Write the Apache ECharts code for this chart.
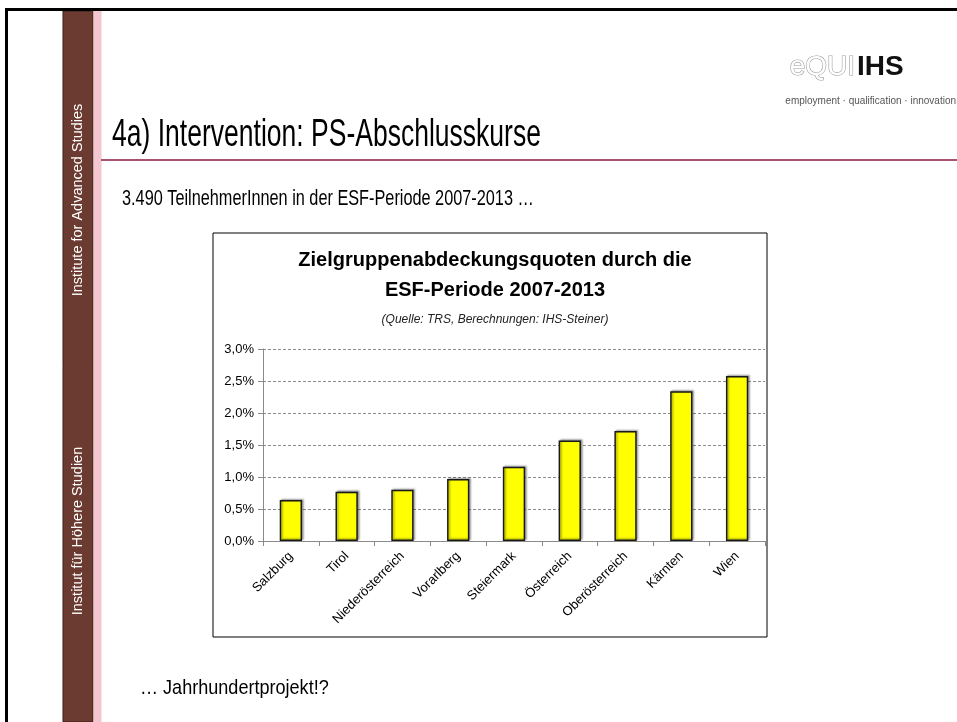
<!DOCTYPE html>
<html>
<head>
<meta charset="utf-8">
<script src="https://cdn.jsdelivr.net/npm/echarts@6/dist/echarts.min.js"></script>
<style>
html,body{margin:0;padding:0;background:#fff;}
#chart{width:957px;height:722px;}
</style>
</head>
<body>
<div id="chart"></div>
<script>
// ---- data ----
const categories = ['Salzburg','Tirol','Niederösterreich','Vorarlberg','Steiermark','Österreich','Oberösterreich','Kärnten','Wien'];
const quoten = [0.64, 0.77, 0.80, 0.97, 1.16, 1.57, 1.72, 2.34, 2.58];
const yTicks = [0, 0.5, 1.0, 1.5, 2.0, 2.5, 3.0];

const slideTitle = '4a) Intervention: PS-Abschlusskurse';
const slideSubtitle = '3.490 TeilnehmerInnen in der ESF-Periode 2007-2013 …';
const slideFooter = '… Jahrhundertprojekt!?';
const chartTitle = 'Zielgruppenabdeckungsquoten durch die\nESF-Periode 2007-2013';
const chartSource = '(Quelle: TRS, Berechnungen: IHS-Steiner)';
const sideTop = 'Institute for Advanced Studies';
const sideBottom = 'Institut für Höhere Studien';

const FONT = '"Liberation Sans", Arial, sans-serif';
const chart = echarts.init(document.getElementById('chart'), null, {renderer:'canvas'});

const option = {
  backgroundColor: '#ffffff',
  animation: false,
  title: [
    {
      text: chartTitle,
      left: 490, top: 240, textAlign: 'center',
      textStyle: {fontFamily: FONT, fontSize: 20, fontWeight: 'bold', color: '#000', lineHeight: 30}
    },
    {
      text: chartSource,
      left: 490, top: 309, textAlign: 'center',
      textStyle: {fontFamily: FONT, fontSize: 12, fontStyle: 'italic', fontWeight: 'normal', color: '#222'}
    }
  ],
  grid: {left: 263, top: 349, width: 502, height: 192, containLabel: false},
  xAxis: {
    type: 'category',
    data: categories,
    boundaryGap: true,
    axisLine: {show: true, lineStyle: {color: '#8a8a8a', width: 1}},
    axisTick: {show: true, length: 5, lineStyle: {color: '#8a8a8a'}},
    axisLabel: {rotate: 45, fontFamily: FONT, fontSize: 13, color: '#000', margin: 13, interval: 0}
  },
  yAxis: {
    type: 'value',
    min: yTicks[0], max: yTicks[yTicks.length - 1], interval: 0.5,
    axisLine: {show: true, lineStyle: {color: '#8a8a8a', width: 1}},
    axisTick: {show: true, length: 5, lineStyle: {color: '#8a8a8a'}},
    axisLabel: {
      fontFamily: FONT, fontSize: 13, color: '#000', margin: 9,
      formatter: v => v.toFixed(1).replace('.', ',') + '%'
    },
    splitLine: {show: true, lineStyle: {color: '#8c8c8c', type: [3, 2], width: 1}}
  },
  series: [{
    type: 'bar',
    data: quoten,
    barWidth: '40%',
    itemStyle: {
      color: '#ffff00', borderColor: '#1a1a1a', borderWidth: 1.5,
      shadowColor: 'rgba(0,0,0,0.35)', shadowBlur: 2, shadowOffsetX: 1.5, shadowOffsetY: -1
    }
  }],
  graphic: [
    // slide frame
    {type: 'rect', shape: {x: 5, y: 8, width: 952, height: 3}, style: {fill: '#000'}, z: 10},
    {type: 'rect', shape: {x: 5, y: 8, width: 3, height: 714}, style: {fill: '#000'}, z: 10},
    // sidebar
    {type: 'rect', shape: {x: 63, y: 11, width: 30, height: 711}, style: {fill: '#6b3a31', stroke: '#3b2019', lineWidth: 1}, z: 5},
    {type: 'rect', shape: {x: 93.5, y: 11, width: 8, height: 711}, style: {fill: '#f4c6cf'}, z: 5},
    {type: 'text', x: 78, y: 200, rotation: Math.PI / 2,
      style: {text: sideTop, fill: '#fff', font: '14.5px ' + FONT, textAlign: 'center', textVerticalAlign: 'middle'}, z: 6},
    {type: 'text', x: 78, y: 531, rotation: Math.PI / 2,
      style: {text: sideBottom, fill: '#fff', font: '14.5px ' + FONT, textAlign: 'center', textVerticalAlign: 'middle'}, z: 6},
    // title + rule
    {type: 'text', x: 112, y: 135, scaleX: 0.68,
      style: {text: slideTitle, fill: '#000', font: '39px ' + FONT, textAlign: 'left', textVerticalAlign: 'middle'}, z: 6},
    {type: 'line', shape: {x1: 101, y1: 160, x2: 957, y2: 160}, style: {stroke: '#8b1a3c', lineWidth: 1.5}, z: 6},
    {type: 'text', x: 122, y: 199, scaleX: 0.74,
      style: {text: slideSubtitle, fill: '#000', font: '22px ' + FONT, textAlign: 'left', textVerticalAlign: 'middle'}, z: 6},
    {type: 'text', x: 140, y: 688, scaleX: 0.86,
      style: {text: slideFooter, fill: '#000', font: '21px ' + FONT, textAlign: 'left', textVerticalAlign: 'middle'}, z: 6},
    // logo
    {type: 'text', x: 855, y: 67,
      style: {text: 'eQUI', fill: '#fff', stroke: '#a0a0a0', lineWidth: 1.2, font: '28px ' + FONT, textAlign: 'right', textVerticalAlign: 'middle'}, z: 6},
    {type: 'text', x: 857, y: 67,
      style: {text: 'IHS', fill: '#111', font: 'bold 28px ' + FONT, textAlign: 'left', textVerticalAlign: 'middle'}, z: 6},
    {type: 'text', x: 956, y: 101,
      style: {text: 'employment · qualification · innovation', fill: '#555', font: '10px ' + FONT, textAlign: 'right', textVerticalAlign: 'middle'}, z: 6},
    // chart frame
    {type: 'rect', shape: {x: 213, y: 233, width: 554, height: 404}, style: {fill: 'none', stroke: '#000', lineWidth: 1}, z: -1}
  ]
};
chart.setOption(option);
</script>
</body>
</html>
